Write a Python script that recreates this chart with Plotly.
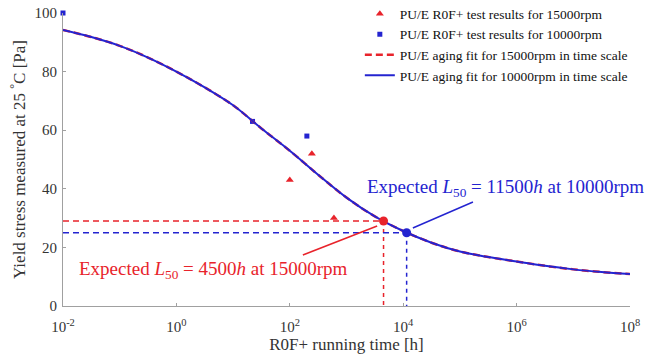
import plotly.graph_objects as go

# test results
t15 = [100, 245, 600]
y15 = [43, 52, 30]
t10 = [0.01, 22, 200]
y10 = [100, 63, 58]

# fitted curve (time [h], yield stress [Pa])
fit_t = [0.01, 0.0316, 0.1, 0.316, 1, 3.16, 10, 31.6, 100, 316, 1000, 3160, 10000,
         31600, 1e5, 3.16e5, 1e6, 3.16e6, 1e7, 3.16e7, 1e8]
fit_y = [94.2, 91.8, 88.8, 84.8, 80.0, 74.6, 68.5, 60.6, 53.0, 44.8, 37.0, 30.6, 25.6,
         21.6, 18.6, 16.7, 15.2, 13.7, 12.5, 11.6, 10.9]

L50_15 = 4500
Y50_15 = 29
L50_10 = 11500
Y50_10 = 25

x_tickvals = [1e-2, 1, 1e2, 1e4, 1e6, 1e8]
x_ticktext = ["10<sup>-2</sup>", "10<sup>0</sup>", "10<sup>2</sup>", "10<sup>4</sup>",
              "10<sup>6</sup>", "10<sup>8</sup>"]
y_tickvals = [0, 20, 40, 60, 80, 100]

RED = "#e8232b"
BLUE = "#2424d0"
FONT = "Liberation Serif"

fig = go.Figure()

# reference dashed lines
fig.add_trace(go.Scatter(x=[1e-2, L50_15], y=[Y50_15, Y50_15], mode="lines",
                         line=dict(color=RED, width=1.5, dash="6px,4px"), showlegend=False,
                         hoverinfo="skip"))
fig.add_trace(go.Scatter(x=[L50_15, L50_15], y=[Y50_15, 0], mode="lines",
                         line=dict(color=RED, width=1.5, dash="4px,4px"), showlegend=False,
                         hoverinfo="skip"))
fig.add_trace(go.Scatter(x=[1e-2, L50_10], y=[Y50_10, Y50_10], mode="lines",
                         line=dict(color=BLUE, width=1.5, dash="6px,4px"), showlegend=False,
                         hoverinfo="skip"))
fig.add_trace(go.Scatter(x=[L50_10, L50_10], y=[Y50_10, 0], mode="lines",
                         line=dict(color=BLUE, width=1.5, dash="4px,4px"), showlegend=False,
                         hoverinfo="skip"))

# pointer lines
fig.add_trace(go.Scatter(x=[170, 3470], y=[17.4, 27.3], mode="lines",
                         line=dict(color=RED, width=1.5), showlegend=False, hoverinfo="skip"))
fig.add_trace(go.Scatter(x=[170000, 14800], y=[35.5, 26.6], mode="lines",
                         line=dict(color=BLUE, width=1.5), showlegend=False, hoverinfo="skip"))

fig.add_trace(go.Scatter(x=t15, y=y15, mode="markers", name="PU/E R0F+ test results for 15000rpm",
                         marker=dict(symbol="triangle-up", color=RED, size=7)))
fig.add_trace(go.Scatter(x=t10, y=y10, mode="markers", name="PU/E R0F+ test results for 10000rpm",
                         marker=dict(symbol="square", color=BLUE, size=5), cliponaxis=False))
fig.add_trace(go.Scatter(x=fit_t, y=fit_y, mode="lines", name="PU/E aging fit for 15000rpm in time scale",
                         line=dict(color=RED, width=2.5, dash="7px,4px", shape="spline")))
fig.add_trace(go.Scatter(x=fit_t, y=fit_y, mode="lines", name="PU/E aging fit for 10000rpm in time scale",
                         line=dict(color=BLUE, width=2, shape="spline")))

# L50 dots
fig.add_trace(go.Scatter(x=[L50_15], y=[Y50_15], mode="markers", showlegend=False,
                         marker=dict(color=RED, size=9), hoverinfo="skip"))
fig.add_trace(go.Scatter(x=[L50_10], y=[Y50_10], mode="markers", showlegend=False,
                         marker=dict(color=BLUE, size=9), hoverinfo="skip"))

fig.add_annotation(x=0.266, y=0.123, xref="paper", yref="paper", showarrow=False,
                   xanchor="center", yanchor="middle",
                   text="Expected <i>L</i><sub>50</sub> = 4500<i>h</i> at 15000rpm",
                   font=dict(family=FONT, size=19, color=RED))
fig.add_annotation(x=0.781, y=0.403, xref="paper", yref="paper", showarrow=False,
                   xanchor="center", yanchor="middle",
                   text="Expected <i>L</i><sub>50</sub> = 11500<i>h</i> at 10000rpm",
                   font=dict(family=FONT, size=19, color=BLUE))

axis_common = dict(showgrid=False, zeroline=False, showline=True, linecolor="#a0a0a0",
                   linewidth=1, ticks="inside", ticklen=3, tickcolor="#a0a0a0",
                   tickfont=dict(family=FONT, size=15, color="#333333"),
                   title_font=dict(family=FONT, size=17, color="#333333"))

fig.update_xaxes(type="log", range=[-2, 8], tickvals=x_tickvals, ticktext=x_ticktext,
                 ticklabelstandoff=7, automargin=False,
                 title_text="R0F+ running time [h]", title_standoff=2, **axis_common)
fig.update_yaxes(range=[0, 100], tickvals=y_tickvals, ticklabelstandoff=2, automargin=False,
                 title_text="Yield stress measured at 25 <sup>°</sup>C [Pa]", title_standoff=4,
                 **axis_common)

fig.update_layout(
    width=670, height=362, margin=dict(l=63, r=40, t=13, b=56, autoexpand=False),
    plot_bgcolor="white", paper_bgcolor="white",
    legend=dict(x=1.005, y=1.05, xanchor="right", yanchor="top", bgcolor="rgba(255,255,255,0)",
                font=dict(family=FONT, size=13.5, color="#111111"), tracegroupgap=0),
)

fig.write_html("out.html")
